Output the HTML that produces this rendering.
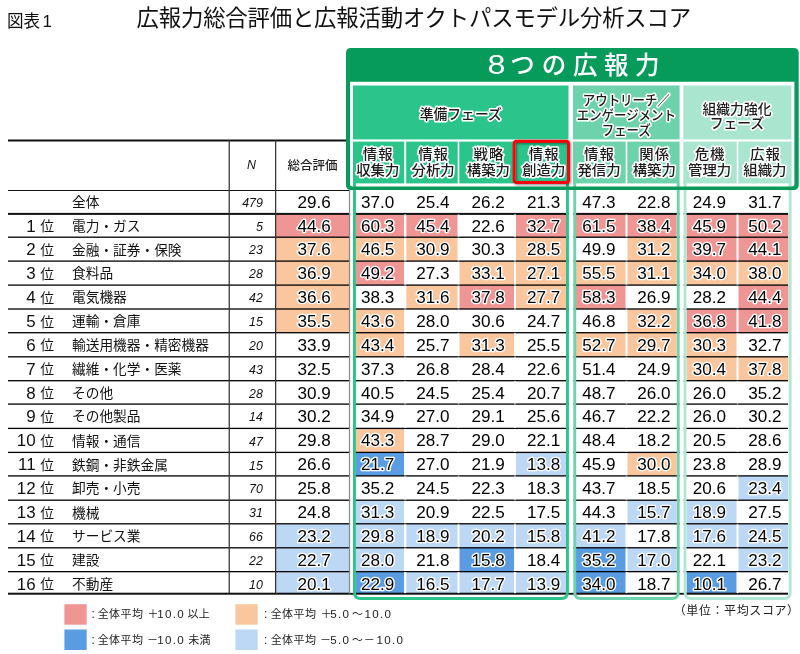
<!DOCTYPE html>
<html lang="ja"><head><meta charset="utf-8"><title>広報力総合評価と広報活動オクトパスモデル分析スコア</title>
<style>html,body{margin:0;padding:0;background:#fff}svg{display:block}</style></head>
<body>
<svg width="800" height="654" viewBox="0 0 800 654">
<rect width="800" height="654" fill="#fff"/>
<rect x="275.5" y="213.90" width="74.0" height="23.30" fill="#ef9695"/>
<rect x="356" y="213.90" width="48.20" height="23.30" fill="#ef9695"/>
<rect x="406.2" y="213.90" width="51.50" height="23.30" fill="#ef9695"/>
<rect x="516.0" y="213.90" width="50.00" height="23.30" fill="#ef9695"/>
<rect x="576" y="213.90" width="49.70" height="23.30" fill="#ef9695"/>
<rect x="627.3" y="213.90" width="49.30" height="23.30" fill="#ef9695"/>
<rect x="686.6" y="213.90" width="50.10" height="23.30" fill="#ef9695"/>
<rect x="738.3" y="213.90" width="50.20" height="23.30" fill="#ef9695"/>
<rect x="275.5" y="237.20" width="74.0" height="23.90" fill="#f9c69e"/>
<rect x="356" y="237.20" width="48.20" height="23.90" fill="#f9c69e"/>
<rect x="406.2" y="237.20" width="51.50" height="23.90" fill="#f9c69e"/>
<rect x="516.0" y="237.20" width="50.00" height="23.90" fill="#f9c69e"/>
<rect x="627.3" y="237.20" width="49.30" height="23.90" fill="#f9c69e"/>
<rect x="686.6" y="237.20" width="50.10" height="23.90" fill="#ef9695"/>
<rect x="738.3" y="237.20" width="50.20" height="23.90" fill="#ef9695"/>
<rect x="275.5" y="261.10" width="74.0" height="24.00" fill="#f9c69e"/>
<rect x="356" y="261.10" width="48.20" height="24.00" fill="#ef9695"/>
<rect x="459.3" y="261.10" width="54.70" height="24.00" fill="#f9c69e"/>
<rect x="516.0" y="261.10" width="50.00" height="24.00" fill="#f9c69e"/>
<rect x="576" y="261.10" width="49.70" height="24.00" fill="#f9c69e"/>
<rect x="627.3" y="261.10" width="49.30" height="24.00" fill="#f9c69e"/>
<rect x="686.6" y="261.10" width="50.10" height="24.00" fill="#f9c69e"/>
<rect x="738.3" y="261.10" width="50.20" height="24.00" fill="#f9c69e"/>
<rect x="275.5" y="285.10" width="74.0" height="23.90" fill="#f9c69e"/>
<rect x="406.2" y="285.10" width="51.50" height="23.90" fill="#f9c69e"/>
<rect x="459.3" y="285.10" width="54.70" height="23.90" fill="#ef9695"/>
<rect x="516.0" y="285.10" width="50.00" height="23.90" fill="#f9c69e"/>
<rect x="576" y="285.10" width="49.70" height="23.90" fill="#ef9695"/>
<rect x="738.3" y="285.10" width="50.20" height="23.90" fill="#ef9695"/>
<rect x="275.5" y="309.00" width="74.0" height="23.70" fill="#f9c69e"/>
<rect x="356" y="309.00" width="48.20" height="23.70" fill="#f9c69e"/>
<rect x="627.3" y="309.00" width="49.30" height="23.70" fill="#f9c69e"/>
<rect x="686.6" y="309.00" width="50.10" height="23.70" fill="#ef9695"/>
<rect x="738.3" y="309.00" width="50.20" height="23.70" fill="#ef9695"/>
<rect x="356" y="332.70" width="48.20" height="24.10" fill="#f9c69e"/>
<rect x="459.3" y="332.70" width="54.70" height="24.10" fill="#f9c69e"/>
<rect x="576" y="332.70" width="49.70" height="24.10" fill="#f9c69e"/>
<rect x="627.3" y="332.70" width="49.30" height="24.10" fill="#f9c69e"/>
<rect x="686.6" y="332.70" width="50.10" height="24.10" fill="#f9c69e"/>
<rect x="686.6" y="356.80" width="50.10" height="23.90" fill="#f9c69e"/>
<rect x="738.3" y="356.80" width="50.20" height="23.90" fill="#f9c69e"/>
<rect x="356" y="428.40" width="48.20" height="24.00" fill="#f9c69e"/>
<rect x="356" y="452.40" width="48.20" height="23.50" fill="#5a9ce1"/>
<rect x="516.0" y="452.40" width="50.00" height="23.50" fill="#bdd8f5"/>
<rect x="627.3" y="452.40" width="49.30" height="23.50" fill="#f9c69e"/>
<rect x="738.3" y="475.90" width="50.20" height="24.30" fill="#bdd8f5"/>
<rect x="356" y="500.20" width="48.20" height="23.60" fill="#bdd8f5"/>
<rect x="627.3" y="500.20" width="49.30" height="23.60" fill="#bdd8f5"/>
<rect x="686.6" y="500.20" width="50.10" height="23.60" fill="#bdd8f5"/>
<rect x="275.5" y="523.80" width="74.0" height="24.00" fill="#bdd8f5"/>
<rect x="356" y="523.80" width="48.20" height="24.00" fill="#bdd8f5"/>
<rect x="406.2" y="523.80" width="51.50" height="24.00" fill="#bdd8f5"/>
<rect x="459.3" y="523.80" width="54.70" height="24.00" fill="#bdd8f5"/>
<rect x="516.0" y="523.80" width="50.00" height="24.00" fill="#bdd8f5"/>
<rect x="576" y="523.80" width="49.70" height="24.00" fill="#bdd8f5"/>
<rect x="686.6" y="523.80" width="50.10" height="24.00" fill="#bdd8f5"/>
<rect x="738.3" y="523.80" width="50.20" height="24.00" fill="#bdd8f5"/>
<rect x="275.5" y="547.80" width="74.0" height="23.85" fill="#bdd8f5"/>
<rect x="356" y="547.80" width="48.20" height="23.85" fill="#bdd8f5"/>
<rect x="459.3" y="547.80" width="54.70" height="23.85" fill="#5a9ce1"/>
<rect x="576" y="547.80" width="49.70" height="23.85" fill="#5a9ce1"/>
<rect x="627.3" y="547.80" width="49.30" height="23.85" fill="#bdd8f5"/>
<rect x="738.3" y="547.80" width="50.20" height="23.85" fill="#bdd8f5"/>
<rect x="275.5" y="571.65" width="74.0" height="22.05" fill="#bdd8f5"/>
<rect x="356" y="571.65" width="48.20" height="22.05" fill="#5a9ce1"/>
<rect x="406.2" y="571.65" width="51.50" height="22.05" fill="#bdd8f5"/>
<rect x="459.3" y="571.65" width="54.70" height="22.05" fill="#bdd8f5"/>
<rect x="516.0" y="571.65" width="50.00" height="22.05" fill="#bdd8f5"/>
<rect x="576" y="571.65" width="49.70" height="22.05" fill="#5a9ce1"/>
<rect x="686.6" y="571.65" width="50.10" height="22.05" fill="#5a9ce1"/>
<rect x="8" y="139.50" width="341.5" height="2" fill="#111"/>
<rect x="8" y="190.00" width="341.5" height="1" fill="#111"/>
<rect x="8" y="212.90" width="780" height="2" fill="#111"/>
<rect x="8" y="236.55" width="780" height="1.3" fill="#000"/>
<rect x="8" y="260.45" width="780" height="1.3" fill="#000"/>
<rect x="8" y="284.45" width="780" height="1.3" fill="#000"/>
<rect x="8" y="308.35" width="780" height="1.3" fill="#000"/>
<rect x="8" y="332.05" width="780" height="1.3" fill="#000"/>
<rect x="8" y="356.15" width="780" height="1.3" fill="#000"/>
<rect x="8" y="380.05" width="780" height="1.3" fill="#000"/>
<rect x="8" y="403.45" width="780" height="1.3" fill="#000"/>
<rect x="8" y="427.75" width="780" height="1.3" fill="#000"/>
<rect x="8" y="451.75" width="780" height="1.3" fill="#000"/>
<rect x="8" y="475.25" width="780" height="1.3" fill="#000"/>
<rect x="8" y="499.55" width="780" height="1.3" fill="#000"/>
<rect x="8" y="523.15" width="780" height="1.3" fill="#000"/>
<rect x="8" y="547.15" width="780" height="1.3" fill="#000"/>
<rect x="8" y="571.00" width="780" height="1.3" fill="#000"/>
<rect x="8" y="592.70" width="780" height="2" fill="#111"/>
<rect x="350.1" y="191" width="2.90" height="401.5" fill="#fff"/>
<rect x="568.9" y="191" width="4.40" height="401.5" fill="#fff"/>
<rect x="679.65" y="191" width="3.95" height="401.5" fill="#fff"/>
<rect x="350" y="81.75" width="444.4" height="105" fill="#fff"/>
<rect x="228.6" y="140" width="1.25" height="453.70000000000005" fill="#3a3232"/>
<rect x="275.0" y="140" width="1.25" height="453.70000000000005" fill="#3a3232"/>
<rect x="348.9" y="190" width="1.2" height="403.70000000000005" fill="#888"/>
<rect x="404.2" y="214.50" width="2.00" height="22.10" fill="#fff"/>
<rect x="404.2" y="237.80" width="2.00" height="22.70" fill="#fff"/>
<rect x="404.2" y="261.70" width="2.00" height="22.80" fill="#fff"/>
<rect x="404.2" y="285.70" width="2.00" height="22.70" fill="#fff"/>
<rect x="404.2" y="309.60" width="2.00" height="22.50" fill="#fff"/>
<rect x="404.2" y="333.30" width="2.00" height="22.90" fill="#fff"/>
<rect x="404.2" y="357.40" width="2.00" height="22.70" fill="#fff"/>
<rect x="404.2" y="381.30" width="2.00" height="22.20" fill="#fff"/>
<rect x="404.2" y="404.70" width="2.00" height="23.10" fill="#fff"/>
<rect x="404.2" y="429.00" width="2.00" height="22.80" fill="#fff"/>
<rect x="404.2" y="453.00" width="2.00" height="22.30" fill="#fff"/>
<rect x="404.2" y="476.50" width="2.00" height="23.10" fill="#fff"/>
<rect x="404.2" y="500.80" width="2.00" height="22.40" fill="#fff"/>
<rect x="404.2" y="524.40" width="2.00" height="22.80" fill="#fff"/>
<rect x="404.2" y="548.40" width="2.00" height="22.65" fill="#fff"/>
<rect x="404.2" y="572.25" width="2.00" height="20.85" fill="#fff"/>
<rect x="457.7" y="214.50" width="1.60" height="22.10" fill="#fff"/>
<rect x="457.7" y="237.80" width="1.60" height="22.70" fill="#fff"/>
<rect x="457.7" y="261.70" width="1.60" height="22.80" fill="#fff"/>
<rect x="457.7" y="285.70" width="1.60" height="22.70" fill="#fff"/>
<rect x="457.7" y="309.60" width="1.60" height="22.50" fill="#fff"/>
<rect x="457.7" y="333.30" width="1.60" height="22.90" fill="#fff"/>
<rect x="457.7" y="357.40" width="1.60" height="22.70" fill="#fff"/>
<rect x="457.7" y="381.30" width="1.60" height="22.20" fill="#fff"/>
<rect x="457.7" y="404.70" width="1.60" height="23.10" fill="#fff"/>
<rect x="457.7" y="429.00" width="1.60" height="22.80" fill="#fff"/>
<rect x="457.7" y="453.00" width="1.60" height="22.30" fill="#fff"/>
<rect x="457.7" y="476.50" width="1.60" height="23.10" fill="#fff"/>
<rect x="457.7" y="500.80" width="1.60" height="22.40" fill="#fff"/>
<rect x="457.7" y="524.40" width="1.60" height="22.80" fill="#fff"/>
<rect x="457.7" y="548.40" width="1.60" height="22.65" fill="#fff"/>
<rect x="457.7" y="572.25" width="1.60" height="20.85" fill="#fff"/>
<rect x="514.0" y="214.50" width="2.00" height="22.10" fill="#fff"/>
<rect x="514.0" y="237.80" width="2.00" height="22.70" fill="#fff"/>
<rect x="514.0" y="261.70" width="2.00" height="22.80" fill="#fff"/>
<rect x="514.0" y="285.70" width="2.00" height="22.70" fill="#fff"/>
<rect x="514.0" y="309.60" width="2.00" height="22.50" fill="#fff"/>
<rect x="514.0" y="333.30" width="2.00" height="22.90" fill="#fff"/>
<rect x="514.0" y="357.40" width="2.00" height="22.70" fill="#fff"/>
<rect x="514.0" y="381.30" width="2.00" height="22.20" fill="#fff"/>
<rect x="514.0" y="404.70" width="2.00" height="23.10" fill="#fff"/>
<rect x="514.0" y="429.00" width="2.00" height="22.80" fill="#fff"/>
<rect x="514.0" y="453.00" width="2.00" height="22.30" fill="#fff"/>
<rect x="514.0" y="476.50" width="2.00" height="23.10" fill="#fff"/>
<rect x="514.0" y="500.80" width="2.00" height="22.40" fill="#fff"/>
<rect x="514.0" y="524.40" width="2.00" height="22.80" fill="#fff"/>
<rect x="514.0" y="548.40" width="2.00" height="22.65" fill="#fff"/>
<rect x="514.0" y="572.25" width="2.00" height="20.85" fill="#fff"/>
<rect x="625.7" y="214.50" width="1.60" height="22.10" fill="#fff"/>
<rect x="625.7" y="237.80" width="1.60" height="22.70" fill="#fff"/>
<rect x="625.7" y="261.70" width="1.60" height="22.80" fill="#fff"/>
<rect x="625.7" y="285.70" width="1.60" height="22.70" fill="#fff"/>
<rect x="625.7" y="309.60" width="1.60" height="22.50" fill="#fff"/>
<rect x="625.7" y="333.30" width="1.60" height="22.90" fill="#fff"/>
<rect x="625.7" y="357.40" width="1.60" height="22.70" fill="#fff"/>
<rect x="625.7" y="381.30" width="1.60" height="22.20" fill="#fff"/>
<rect x="625.7" y="404.70" width="1.60" height="23.10" fill="#fff"/>
<rect x="625.7" y="429.00" width="1.60" height="22.80" fill="#fff"/>
<rect x="625.7" y="453.00" width="1.60" height="22.30" fill="#fff"/>
<rect x="625.7" y="476.50" width="1.60" height="23.10" fill="#fff"/>
<rect x="625.7" y="500.80" width="1.60" height="22.40" fill="#fff"/>
<rect x="625.7" y="524.40" width="1.60" height="22.80" fill="#fff"/>
<rect x="625.7" y="548.40" width="1.60" height="22.65" fill="#fff"/>
<rect x="625.7" y="572.25" width="1.60" height="20.85" fill="#fff"/>
<rect x="736.7" y="214.50" width="1.60" height="22.10" fill="#fff"/>
<rect x="736.7" y="237.80" width="1.60" height="22.70" fill="#fff"/>
<rect x="736.7" y="261.70" width="1.60" height="22.80" fill="#fff"/>
<rect x="736.7" y="285.70" width="1.60" height="22.70" fill="#fff"/>
<rect x="736.7" y="309.60" width="1.60" height="22.50" fill="#fff"/>
<rect x="736.7" y="333.30" width="1.60" height="22.90" fill="#fff"/>
<rect x="736.7" y="357.40" width="1.60" height="22.70" fill="#fff"/>
<rect x="736.7" y="381.30" width="1.60" height="22.20" fill="#fff"/>
<rect x="736.7" y="404.70" width="1.60" height="23.10" fill="#fff"/>
<rect x="736.7" y="429.00" width="1.60" height="22.80" fill="#fff"/>
<rect x="736.7" y="453.00" width="1.60" height="22.30" fill="#fff"/>
<rect x="736.7" y="476.50" width="1.60" height="23.10" fill="#fff"/>
<rect x="736.7" y="500.80" width="1.60" height="22.40" fill="#fff"/>
<rect x="736.7" y="524.40" width="1.60" height="22.80" fill="#fff"/>
<rect x="736.7" y="548.40" width="1.60" height="22.65" fill="#fff"/>
<rect x="736.7" y="572.25" width="1.60" height="20.85" fill="#fff"/>
<path d="M354.45 183 V592.5 Q354.45 598.5 360.45 598.5 H561.45 Q567.45 598.5 567.45 592.5 V183" fill="none" stroke="#2bc48a" stroke-width="2.9"/>
<path d="M574.75 183 V592.5 Q574.75 598.5 580.75 598.5 H672.20 Q678.20 598.5 678.20 592.5 V183" fill="none" stroke="#6ed3ad" stroke-width="2.9"/>
<path d="M685.05 183 V592.5 Q685.05 598.5 691.05 598.5 H784.15 Q790.15 598.5 790.15 592.5 V183" fill="none" stroke="#b0e8d3" stroke-width="2.9"/>
<path fill-rule="evenodd" d="M351 48 H793.7 Q798.7 48 798.7 53 V185 Q798.7 190 793.7 190 H351 Q346 190 346 185 V53 Q346 48 351 48 Z M350 81.75 V184.1 Q350 186.6 352.5 186.6 H791.9 Q794.4 186.6 794.4 184.1 V81.75 Z" fill="#069a5b"/>
<rect x="353" y="85.5" width="215.5" height="53.900000000000006" fill="#2bc48a"/>
<rect x="573" y="85.5" width="106.60000000000002" height="53.900000000000006" fill="#6ed3ad"/>
<rect x="683.3" y="85.5" width="108.10" height="53.900000000000006" fill="#a9e5cf"/>
<rect x="353" y="141.6" width="51.20" height="41.80" fill="#2bc48a"/>
<rect x="406.2" y="141.6" width="51.50" height="41.80" fill="#2bc48a"/>
<rect x="459.3" y="141.6" width="54.70" height="41.80" fill="#2bc48a"/>
<rect x="516" y="141.6" width="52.50" height="41.80" fill="#2bc48a"/>
<rect x="573" y="141.6" width="52.70" height="41.80" fill="#6ed3ad"/>
<rect x="627.3" y="141.6" width="52.30" height="41.80" fill="#6ed3ad"/>
<rect x="683.3" y="141.6" width="53.40" height="41.80" fill="#a9e5cf"/>
<rect x="738.3" y="141.6" width="53.30" height="41.80" fill="#a9e5cf"/>
<defs><filter id="sh" x="-20%" y="-20%" width="150%" height="150%"><feDropShadow dx="1.2" dy="1.2" stdDeviation="1" flood-color="#000" flood-opacity="0.45"/></filter></defs>
<rect x="514.2" y="141.2" width="54.3" height="41.3" rx="2.5" ry="2.5" fill="none" stroke="#fb0007" stroke-width="3" filter="url(#sh)"/>
<text x="7" y="26.8" font-family="'Noto Sans CJK JP','Liberation Sans',sans-serif" font-size="16.6" fill="#111">図表<tspan dx="2.2" font-family="'Liberation Sans','Noto Sans CJK JP',sans-serif" font-size="17">1</tspan></text>
<text x="136.6" y="26.2" font-family="'Noto Sans CJK JP','Liberation Sans',sans-serif" font-size="22.4" fill="#111" letter-spacing="-0.2">広報力総合評価と広報活動オクトパスモデル分析スコア</text>
<text x="496.4" y="73.6" text-anchor="middle" font-family="'Liberation Sans','Noto Sans CJK JP',sans-serif" font-size="27.4" fill="#fff" transform="translate(496.4 0) scale(1.18 1) translate(-496.4 0)">8</text>
<text x="522.5 554 585.2 616.2 647.2" y="73.6" text-anchor="middle" font-family="'Noto Sans CJK JP','Liberation Sans',sans-serif" font-size="24.5" fill="#fff" font-weight="500">つの広報力</text>
<text x="460.75" y="118.50" text-anchor="middle" font-family="'Noto Sans CJK JP','Liberation Sans',sans-serif" font-size="13.8" font-weight="500" fill="#1c1c1c" letter-spacing="0" stroke="#fff" stroke-width="3.2" stroke-linejoin="round" paint-order="stroke" >準備フェーズ</text>
<text x="626.30" y="104.80" text-anchor="middle" font-family="'Noto Sans CJK JP','Liberation Sans',sans-serif" font-size="13.5" font-weight="500" fill="#1c1c1c" letter-spacing="0" stroke="#fff" stroke-width="3.2" stroke-linejoin="round" paint-order="stroke" transform="translate(626.30 0) scale(0.92 1) translate(-626.30 0)">アウトリーチ／</text>
<text x="626.30" y="119.70" text-anchor="middle" font-family="'Noto Sans CJK JP','Liberation Sans',sans-serif" font-size="13.5" font-weight="500" fill="#1c1c1c" letter-spacing="0" stroke="#fff" stroke-width="3.2" stroke-linejoin="round" paint-order="stroke" transform="translate(626.30 0) scale(0.92 1) translate(-626.30 0)">エンゲージメント</text>
<text x="626.30" y="134.60" text-anchor="middle" font-family="'Noto Sans CJK JP','Liberation Sans',sans-serif" font-size="13.5" font-weight="500" fill="#1c1c1c" letter-spacing="0" stroke="#fff" stroke-width="3.2" stroke-linejoin="round" paint-order="stroke" transform="translate(626.30 0) scale(0.92 1) translate(-626.30 0)">フェーズ</text>
<text x="737.00" y="113.70" text-anchor="middle" font-family="'Noto Sans CJK JP','Liberation Sans',sans-serif" font-size="13.8" font-weight="500" fill="#1c1c1c" letter-spacing="0" stroke="#fff" stroke-width="3.2" stroke-linejoin="round" paint-order="stroke" >組織力強化</text>
<text x="737.00" y="127.90" text-anchor="middle" font-family="'Noto Sans CJK JP','Liberation Sans',sans-serif" font-size="13.8" font-weight="500" fill="#1c1c1c" letter-spacing="0" stroke="#fff" stroke-width="3.2" stroke-linejoin="round" paint-order="stroke" >フェーズ</text>
<text x="378.30" y="158.70" text-anchor="middle" font-family="'Noto Sans CJK JP','Liberation Sans',sans-serif" font-size="13.6" font-weight="500" fill="#1c1c1c" letter-spacing="1" stroke="#fff" stroke-width="3.2" stroke-linejoin="round" paint-order="stroke" transform="translate(378.30 0) scale(1.06 1) translate(-378.30 0)">情報</text>
<text x="377.80" y="175.30" text-anchor="middle" font-family="'Noto Sans CJK JP','Liberation Sans',sans-serif" font-size="13.6" font-weight="500" fill="#1c1c1c" letter-spacing="0" stroke="#fff" stroke-width="3.2" stroke-linejoin="round" paint-order="stroke" transform="translate(377.80 0) scale(1.06 1) translate(-377.80 0)">収集力</text>
<text x="433.60" y="158.70" text-anchor="middle" font-family="'Noto Sans CJK JP','Liberation Sans',sans-serif" font-size="13.6" font-weight="500" fill="#1c1c1c" letter-spacing="1" stroke="#fff" stroke-width="3.2" stroke-linejoin="round" paint-order="stroke" transform="translate(433.60 0) scale(1.06 1) translate(-433.60 0)">情報</text>
<text x="433.10" y="175.30" text-anchor="middle" font-family="'Noto Sans CJK JP','Liberation Sans',sans-serif" font-size="13.6" font-weight="500" fill="#1c1c1c" letter-spacing="0" stroke="#fff" stroke-width="3.2" stroke-linejoin="round" paint-order="stroke" transform="translate(433.10 0) scale(1.06 1) translate(-433.10 0)">分析力</text>
<text x="488.90" y="158.70" text-anchor="middle" font-family="'Noto Sans CJK JP','Liberation Sans',sans-serif" font-size="13.6" font-weight="500" fill="#1c1c1c" letter-spacing="1" stroke="#fff" stroke-width="3.2" stroke-linejoin="round" paint-order="stroke" transform="translate(488.90 0) scale(1.06 1) translate(-488.90 0)">戦略</text>
<text x="488.40" y="175.30" text-anchor="middle" font-family="'Noto Sans CJK JP','Liberation Sans',sans-serif" font-size="13.6" font-weight="500" fill="#1c1c1c" letter-spacing="0" stroke="#fff" stroke-width="3.2" stroke-linejoin="round" paint-order="stroke" transform="translate(488.40 0) scale(1.06 1) translate(-488.40 0)">構築力</text>
<text x="544.20" y="158.70" text-anchor="middle" font-family="'Noto Sans CJK JP','Liberation Sans',sans-serif" font-size="13.6" font-weight="500" fill="#1c1c1c" letter-spacing="1" stroke="#fff" stroke-width="3.2" stroke-linejoin="round" paint-order="stroke" transform="translate(544.20 0) scale(1.06 1) translate(-544.20 0)">情報</text>
<text x="543.70" y="175.30" text-anchor="middle" font-family="'Noto Sans CJK JP','Liberation Sans',sans-serif" font-size="13.6" font-weight="500" fill="#1c1c1c" letter-spacing="0" stroke="#fff" stroke-width="3.2" stroke-linejoin="round" paint-order="stroke" transform="translate(543.70 0) scale(1.06 1) translate(-543.70 0)">創造力</text>
<text x="599.50" y="158.70" text-anchor="middle" font-family="'Noto Sans CJK JP','Liberation Sans',sans-serif" font-size="13.6" font-weight="500" fill="#1c1c1c" letter-spacing="1" stroke="#fff" stroke-width="3.2" stroke-linejoin="round" paint-order="stroke" transform="translate(599.50 0) scale(1.06 1) translate(-599.50 0)">情報</text>
<text x="599.00" y="175.30" text-anchor="middle" font-family="'Noto Sans CJK JP','Liberation Sans',sans-serif" font-size="13.6" font-weight="500" fill="#1c1c1c" letter-spacing="0" stroke="#fff" stroke-width="3.2" stroke-linejoin="round" paint-order="stroke" transform="translate(599.00 0) scale(1.06 1) translate(-599.00 0)">発信力</text>
<text x="654.80" y="158.70" text-anchor="middle" font-family="'Noto Sans CJK JP','Liberation Sans',sans-serif" font-size="13.6" font-weight="500" fill="#1c1c1c" letter-spacing="1" stroke="#fff" stroke-width="3.2" stroke-linejoin="round" paint-order="stroke" transform="translate(654.80 0) scale(1.06 1) translate(-654.80 0)">関係</text>
<text x="654.30" y="175.30" text-anchor="middle" font-family="'Noto Sans CJK JP','Liberation Sans',sans-serif" font-size="13.6" font-weight="500" fill="#1c1c1c" letter-spacing="0" stroke="#fff" stroke-width="3.2" stroke-linejoin="round" paint-order="stroke" transform="translate(654.30 0) scale(1.06 1) translate(-654.30 0)">構築力</text>
<text x="710.10" y="158.70" text-anchor="middle" font-family="'Noto Sans CJK JP','Liberation Sans',sans-serif" font-size="13.6" font-weight="500" fill="#1c1c1c" letter-spacing="1" stroke="#fff" stroke-width="3.2" stroke-linejoin="round" paint-order="stroke" transform="translate(710.10 0) scale(1.06 1) translate(-710.10 0)">危機</text>
<text x="709.60" y="175.30" text-anchor="middle" font-family="'Noto Sans CJK JP','Liberation Sans',sans-serif" font-size="13.6" font-weight="500" fill="#1c1c1c" letter-spacing="0" stroke="#fff" stroke-width="3.2" stroke-linejoin="round" paint-order="stroke" transform="translate(709.60 0) scale(1.06 1) translate(-709.60 0)">管理力</text>
<text x="765.40" y="158.70" text-anchor="middle" font-family="'Noto Sans CJK JP','Liberation Sans',sans-serif" font-size="13.6" font-weight="500" fill="#1c1c1c" letter-spacing="1" stroke="#fff" stroke-width="3.2" stroke-linejoin="round" paint-order="stroke" transform="translate(765.40 0) scale(1.06 1) translate(-765.40 0)">広報</text>
<text x="764.90" y="175.30" text-anchor="middle" font-family="'Noto Sans CJK JP','Liberation Sans',sans-serif" font-size="13.6" font-weight="500" fill="#1c1c1c" letter-spacing="0" stroke="#fff" stroke-width="3.2" stroke-linejoin="round" paint-order="stroke" transform="translate(764.90 0) scale(1.06 1) translate(-764.90 0)">組織力</text>
<text x="251.5" y="169.2" text-anchor="middle" font-family="'Liberation Sans','Noto Sans CJK JP',sans-serif" font-size="12.4" font-style="italic" fill="#111">N</text>
<text x="312.5" y="169.8" text-anchor="middle" font-family="'Noto Sans CJK JP','Liberation Sans',sans-serif" font-size="12.5" font-weight="500" fill="#222">総合評価</text>
<text x="72" y="207.30" font-family="'Noto Sans CJK JP','Liberation Sans',sans-serif" font-size="13.7" fill="#111">全体</text>
<text x="262.9" y="207.20" text-anchor="end" font-family="'Liberation Sans','Noto Sans CJK JP',sans-serif" font-size="12.4" font-style="italic" fill="#111">479</text>
<text x="314.1" y="208.10" text-anchor="middle" font-family="'Liberation Sans','Noto Sans CJK JP',sans-serif" font-size="16" fill="#000" stroke="#fff" stroke-width="2.7" stroke-linejoin="round" paint-order="stroke" transform="translate(314.1 0) scale(1.07 1) translate(-314.1 0)">29.6</text>
<text x="377.60" y="208.10" text-anchor="middle" font-family="'Liberation Sans','Noto Sans CJK JP',sans-serif" font-size="16" fill="#000" stroke="#fff" stroke-width="2.7" stroke-linejoin="round" paint-order="stroke" transform="translate(377.60 0) scale(1.07 1) translate(-377.60 0)">37.0</text>
<text x="433.00" y="208.10" text-anchor="middle" font-family="'Liberation Sans','Noto Sans CJK JP',sans-serif" font-size="16" fill="#000" stroke="#fff" stroke-width="2.7" stroke-linejoin="round" paint-order="stroke" transform="translate(433.00 0) scale(1.07 1) translate(-433.00 0)">25.4</text>
<text x="488.20" y="208.10" text-anchor="middle" font-family="'Liberation Sans','Noto Sans CJK JP',sans-serif" font-size="16" fill="#000" stroke="#fff" stroke-width="2.7" stroke-linejoin="round" paint-order="stroke" transform="translate(488.20 0) scale(1.07 1) translate(-488.20 0)">26.2</text>
<text x="543.60" y="208.10" text-anchor="middle" font-family="'Liberation Sans','Noto Sans CJK JP',sans-serif" font-size="16" fill="#000" stroke="#fff" stroke-width="2.7" stroke-linejoin="round" paint-order="stroke" transform="translate(543.60 0) scale(1.07 1) translate(-543.60 0)">21.3</text>
<text x="598.90" y="208.10" text-anchor="middle" font-family="'Liberation Sans','Noto Sans CJK JP',sans-serif" font-size="16" fill="#000" stroke="#fff" stroke-width="2.7" stroke-linejoin="round" paint-order="stroke" transform="translate(598.90 0) scale(1.07 1) translate(-598.90 0)">47.3</text>
<text x="654.00" y="208.10" text-anchor="middle" font-family="'Liberation Sans','Noto Sans CJK JP',sans-serif" font-size="16" fill="#000" stroke="#fff" stroke-width="2.7" stroke-linejoin="round" paint-order="stroke" transform="translate(654.00 0) scale(1.07 1) translate(-654.00 0)">22.8</text>
<text x="709.50" y="208.10" text-anchor="middle" font-family="'Liberation Sans','Noto Sans CJK JP',sans-serif" font-size="16" fill="#000" stroke="#fff" stroke-width="2.7" stroke-linejoin="round" paint-order="stroke" transform="translate(709.50 0) scale(1.07 1) translate(-709.50 0)">24.9</text>
<text x="764.90" y="208.10" text-anchor="middle" font-family="'Liberation Sans','Noto Sans CJK JP',sans-serif" font-size="16" fill="#000" stroke="#fff" stroke-width="2.7" stroke-linejoin="round" paint-order="stroke" transform="translate(764.90 0) scale(1.07 1) translate(-764.90 0)">31.7</text>
<text x="35.6" y="232.00" text-anchor="end" font-family="'Liberation Sans','Noto Sans CJK JP',sans-serif" font-size="16" fill="#111" transform="translate(35.6 0) scale(1.06 1) translate(-35.6 0)">1</text>
<text x="40.3" y="231.40" font-family="'Noto Sans CJK JP','Liberation Sans',sans-serif" font-size="13.8" fill="#111">位</text>
<text x="72" y="231.20" font-family="'Noto Sans CJK JP','Liberation Sans',sans-serif" font-size="13.7" fill="#111">電力・ガス</text>
<text x="262.9" y="231.10" text-anchor="end" font-family="'Liberation Sans','Noto Sans CJK JP',sans-serif" font-size="12.4" font-style="italic" fill="#111">5</text>
<text x="314.1" y="232.00" text-anchor="middle" font-family="'Liberation Sans','Noto Sans CJK JP',sans-serif" font-size="16" fill="#000" stroke="#fff" stroke-width="2.7" stroke-linejoin="round" paint-order="stroke" transform="translate(314.1 0) scale(1.07 1) translate(-314.1 0)">44.6</text>
<text x="377.60" y="232.00" text-anchor="middle" font-family="'Liberation Sans','Noto Sans CJK JP',sans-serif" font-size="16" fill="#000" stroke="#fff" stroke-width="2.7" stroke-linejoin="round" paint-order="stroke" transform="translate(377.60 0) scale(1.07 1) translate(-377.60 0)">60.3</text>
<text x="433.00" y="232.00" text-anchor="middle" font-family="'Liberation Sans','Noto Sans CJK JP',sans-serif" font-size="16" fill="#000" stroke="#fff" stroke-width="2.7" stroke-linejoin="round" paint-order="stroke" transform="translate(433.00 0) scale(1.07 1) translate(-433.00 0)">45.4</text>
<text x="488.20" y="232.00" text-anchor="middle" font-family="'Liberation Sans','Noto Sans CJK JP',sans-serif" font-size="16" fill="#000" stroke="#fff" stroke-width="2.7" stroke-linejoin="round" paint-order="stroke" transform="translate(488.20 0) scale(1.07 1) translate(-488.20 0)">22.6</text>
<text x="543.60" y="232.00" text-anchor="middle" font-family="'Liberation Sans','Noto Sans CJK JP',sans-serif" font-size="16" fill="#000" stroke="#fff" stroke-width="2.7" stroke-linejoin="round" paint-order="stroke" transform="translate(543.60 0) scale(1.07 1) translate(-543.60 0)">32.7</text>
<text x="598.90" y="232.00" text-anchor="middle" font-family="'Liberation Sans','Noto Sans CJK JP',sans-serif" font-size="16" fill="#000" stroke="#fff" stroke-width="2.7" stroke-linejoin="round" paint-order="stroke" transform="translate(598.90 0) scale(1.07 1) translate(-598.90 0)">61.5</text>
<text x="654.00" y="232.00" text-anchor="middle" font-family="'Liberation Sans','Noto Sans CJK JP',sans-serif" font-size="16" fill="#000" stroke="#fff" stroke-width="2.7" stroke-linejoin="round" paint-order="stroke" transform="translate(654.00 0) scale(1.07 1) translate(-654.00 0)">38.4</text>
<text x="709.50" y="232.00" text-anchor="middle" font-family="'Liberation Sans','Noto Sans CJK JP',sans-serif" font-size="16" fill="#000" stroke="#fff" stroke-width="2.7" stroke-linejoin="round" paint-order="stroke" transform="translate(709.50 0) scale(1.07 1) translate(-709.50 0)">45.9</text>
<text x="764.90" y="232.00" text-anchor="middle" font-family="'Liberation Sans','Noto Sans CJK JP',sans-serif" font-size="16" fill="#000" stroke="#fff" stroke-width="2.7" stroke-linejoin="round" paint-order="stroke" transform="translate(764.90 0) scale(1.07 1) translate(-764.90 0)">50.2</text>
<text x="35.6" y="255.30" text-anchor="end" font-family="'Liberation Sans','Noto Sans CJK JP',sans-serif" font-size="16" fill="#111" transform="translate(35.6 0) scale(1.06 1) translate(-35.6 0)">2</text>
<text x="40.3" y="254.70" font-family="'Noto Sans CJK JP','Liberation Sans',sans-serif" font-size="13.8" fill="#111">位</text>
<text x="72" y="254.50" font-family="'Noto Sans CJK JP','Liberation Sans',sans-serif" font-size="13.7" fill="#111">金融・証券・保険</text>
<text x="262.9" y="254.40" text-anchor="end" font-family="'Liberation Sans','Noto Sans CJK JP',sans-serif" font-size="12.4" font-style="italic" fill="#111">23</text>
<text x="314.1" y="255.30" text-anchor="middle" font-family="'Liberation Sans','Noto Sans CJK JP',sans-serif" font-size="16" fill="#000" stroke="#fff" stroke-width="2.7" stroke-linejoin="round" paint-order="stroke" transform="translate(314.1 0) scale(1.07 1) translate(-314.1 0)">37.6</text>
<text x="377.60" y="255.30" text-anchor="middle" font-family="'Liberation Sans','Noto Sans CJK JP',sans-serif" font-size="16" fill="#000" stroke="#fff" stroke-width="2.7" stroke-linejoin="round" paint-order="stroke" transform="translate(377.60 0) scale(1.07 1) translate(-377.60 0)">46.5</text>
<text x="433.00" y="255.30" text-anchor="middle" font-family="'Liberation Sans','Noto Sans CJK JP',sans-serif" font-size="16" fill="#000" stroke="#fff" stroke-width="2.7" stroke-linejoin="round" paint-order="stroke" transform="translate(433.00 0) scale(1.07 1) translate(-433.00 0)">30.9</text>
<text x="488.20" y="255.30" text-anchor="middle" font-family="'Liberation Sans','Noto Sans CJK JP',sans-serif" font-size="16" fill="#000" stroke="#fff" stroke-width="2.7" stroke-linejoin="round" paint-order="stroke" transform="translate(488.20 0) scale(1.07 1) translate(-488.20 0)">30.3</text>
<text x="543.60" y="255.30" text-anchor="middle" font-family="'Liberation Sans','Noto Sans CJK JP',sans-serif" font-size="16" fill="#000" stroke="#fff" stroke-width="2.7" stroke-linejoin="round" paint-order="stroke" transform="translate(543.60 0) scale(1.07 1) translate(-543.60 0)">28.5</text>
<text x="598.90" y="255.30" text-anchor="middle" font-family="'Liberation Sans','Noto Sans CJK JP',sans-serif" font-size="16" fill="#000" stroke="#fff" stroke-width="2.7" stroke-linejoin="round" paint-order="stroke" transform="translate(598.90 0) scale(1.07 1) translate(-598.90 0)">49.9</text>
<text x="654.00" y="255.30" text-anchor="middle" font-family="'Liberation Sans','Noto Sans CJK JP',sans-serif" font-size="16" fill="#000" stroke="#fff" stroke-width="2.7" stroke-linejoin="round" paint-order="stroke" transform="translate(654.00 0) scale(1.07 1) translate(-654.00 0)">31.2</text>
<text x="709.50" y="255.30" text-anchor="middle" font-family="'Liberation Sans','Noto Sans CJK JP',sans-serif" font-size="16" fill="#000" stroke="#fff" stroke-width="2.7" stroke-linejoin="round" paint-order="stroke" transform="translate(709.50 0) scale(1.07 1) translate(-709.50 0)">39.7</text>
<text x="764.90" y="255.30" text-anchor="middle" font-family="'Liberation Sans','Noto Sans CJK JP',sans-serif" font-size="16" fill="#000" stroke="#fff" stroke-width="2.7" stroke-linejoin="round" paint-order="stroke" transform="translate(764.90 0) scale(1.07 1) translate(-764.90 0)">44.1</text>
<text x="35.6" y="279.20" text-anchor="end" font-family="'Liberation Sans','Noto Sans CJK JP',sans-serif" font-size="16" fill="#111" transform="translate(35.6 0) scale(1.06 1) translate(-35.6 0)">3</text>
<text x="40.3" y="278.60" font-family="'Noto Sans CJK JP','Liberation Sans',sans-serif" font-size="13.8" fill="#111">位</text>
<text x="72" y="278.40" font-family="'Noto Sans CJK JP','Liberation Sans',sans-serif" font-size="13.7" fill="#111">食料品</text>
<text x="262.9" y="278.30" text-anchor="end" font-family="'Liberation Sans','Noto Sans CJK JP',sans-serif" font-size="12.4" font-style="italic" fill="#111">28</text>
<text x="314.1" y="279.20" text-anchor="middle" font-family="'Liberation Sans','Noto Sans CJK JP',sans-serif" font-size="16" fill="#000" stroke="#fff" stroke-width="2.7" stroke-linejoin="round" paint-order="stroke" transform="translate(314.1 0) scale(1.07 1) translate(-314.1 0)">36.9</text>
<text x="377.60" y="279.20" text-anchor="middle" font-family="'Liberation Sans','Noto Sans CJK JP',sans-serif" font-size="16" fill="#000" stroke="#fff" stroke-width="2.7" stroke-linejoin="round" paint-order="stroke" transform="translate(377.60 0) scale(1.07 1) translate(-377.60 0)">49.2</text>
<text x="433.00" y="279.20" text-anchor="middle" font-family="'Liberation Sans','Noto Sans CJK JP',sans-serif" font-size="16" fill="#000" stroke="#fff" stroke-width="2.7" stroke-linejoin="round" paint-order="stroke" transform="translate(433.00 0) scale(1.07 1) translate(-433.00 0)">27.3</text>
<text x="488.20" y="279.20" text-anchor="middle" font-family="'Liberation Sans','Noto Sans CJK JP',sans-serif" font-size="16" fill="#000" stroke="#fff" stroke-width="2.7" stroke-linejoin="round" paint-order="stroke" transform="translate(488.20 0) scale(1.07 1) translate(-488.20 0)">33.1</text>
<text x="543.60" y="279.20" text-anchor="middle" font-family="'Liberation Sans','Noto Sans CJK JP',sans-serif" font-size="16" fill="#000" stroke="#fff" stroke-width="2.7" stroke-linejoin="round" paint-order="stroke" transform="translate(543.60 0) scale(1.07 1) translate(-543.60 0)">27.1</text>
<text x="598.90" y="279.20" text-anchor="middle" font-family="'Liberation Sans','Noto Sans CJK JP',sans-serif" font-size="16" fill="#000" stroke="#fff" stroke-width="2.7" stroke-linejoin="round" paint-order="stroke" transform="translate(598.90 0) scale(1.07 1) translate(-598.90 0)">55.5</text>
<text x="654.00" y="279.20" text-anchor="middle" font-family="'Liberation Sans','Noto Sans CJK JP',sans-serif" font-size="16" fill="#000" stroke="#fff" stroke-width="2.7" stroke-linejoin="round" paint-order="stroke" transform="translate(654.00 0) scale(1.07 1) translate(-654.00 0)">31.1</text>
<text x="709.50" y="279.20" text-anchor="middle" font-family="'Liberation Sans','Noto Sans CJK JP',sans-serif" font-size="16" fill="#000" stroke="#fff" stroke-width="2.7" stroke-linejoin="round" paint-order="stroke" transform="translate(709.50 0) scale(1.07 1) translate(-709.50 0)">34.0</text>
<text x="764.90" y="279.20" text-anchor="middle" font-family="'Liberation Sans','Noto Sans CJK JP',sans-serif" font-size="16" fill="#000" stroke="#fff" stroke-width="2.7" stroke-linejoin="round" paint-order="stroke" transform="translate(764.90 0) scale(1.07 1) translate(-764.90 0)">38.0</text>
<text x="35.6" y="303.20" text-anchor="end" font-family="'Liberation Sans','Noto Sans CJK JP',sans-serif" font-size="16" fill="#111" transform="translate(35.6 0) scale(1.06 1) translate(-35.6 0)">4</text>
<text x="40.3" y="302.60" font-family="'Noto Sans CJK JP','Liberation Sans',sans-serif" font-size="13.8" fill="#111">位</text>
<text x="72" y="302.40" font-family="'Noto Sans CJK JP','Liberation Sans',sans-serif" font-size="13.7" fill="#111">電気機器</text>
<text x="262.9" y="302.30" text-anchor="end" font-family="'Liberation Sans','Noto Sans CJK JP',sans-serif" font-size="12.4" font-style="italic" fill="#111">42</text>
<text x="314.1" y="303.20" text-anchor="middle" font-family="'Liberation Sans','Noto Sans CJK JP',sans-serif" font-size="16" fill="#000" stroke="#fff" stroke-width="2.7" stroke-linejoin="round" paint-order="stroke" transform="translate(314.1 0) scale(1.07 1) translate(-314.1 0)">36.6</text>
<text x="377.60" y="303.20" text-anchor="middle" font-family="'Liberation Sans','Noto Sans CJK JP',sans-serif" font-size="16" fill="#000" stroke="#fff" stroke-width="2.7" stroke-linejoin="round" paint-order="stroke" transform="translate(377.60 0) scale(1.07 1) translate(-377.60 0)">38.3</text>
<text x="433.00" y="303.20" text-anchor="middle" font-family="'Liberation Sans','Noto Sans CJK JP',sans-serif" font-size="16" fill="#000" stroke="#fff" stroke-width="2.7" stroke-linejoin="round" paint-order="stroke" transform="translate(433.00 0) scale(1.07 1) translate(-433.00 0)">31.6</text>
<text x="488.20" y="303.20" text-anchor="middle" font-family="'Liberation Sans','Noto Sans CJK JP',sans-serif" font-size="16" fill="#000" stroke="#fff" stroke-width="2.7" stroke-linejoin="round" paint-order="stroke" transform="translate(488.20 0) scale(1.07 1) translate(-488.20 0)">37.8</text>
<text x="543.60" y="303.20" text-anchor="middle" font-family="'Liberation Sans','Noto Sans CJK JP',sans-serif" font-size="16" fill="#000" stroke="#fff" stroke-width="2.7" stroke-linejoin="round" paint-order="stroke" transform="translate(543.60 0) scale(1.07 1) translate(-543.60 0)">27.7</text>
<text x="598.90" y="303.20" text-anchor="middle" font-family="'Liberation Sans','Noto Sans CJK JP',sans-serif" font-size="16" fill="#000" stroke="#fff" stroke-width="2.7" stroke-linejoin="round" paint-order="stroke" transform="translate(598.90 0) scale(1.07 1) translate(-598.90 0)">58.3</text>
<text x="654.00" y="303.20" text-anchor="middle" font-family="'Liberation Sans','Noto Sans CJK JP',sans-serif" font-size="16" fill="#000" stroke="#fff" stroke-width="2.7" stroke-linejoin="round" paint-order="stroke" transform="translate(654.00 0) scale(1.07 1) translate(-654.00 0)">26.9</text>
<text x="709.50" y="303.20" text-anchor="middle" font-family="'Liberation Sans','Noto Sans CJK JP',sans-serif" font-size="16" fill="#000" stroke="#fff" stroke-width="2.7" stroke-linejoin="round" paint-order="stroke" transform="translate(709.50 0) scale(1.07 1) translate(-709.50 0)">28.2</text>
<text x="764.90" y="303.20" text-anchor="middle" font-family="'Liberation Sans','Noto Sans CJK JP',sans-serif" font-size="16" fill="#000" stroke="#fff" stroke-width="2.7" stroke-linejoin="round" paint-order="stroke" transform="translate(764.90 0) scale(1.07 1) translate(-764.90 0)">44.4</text>
<text x="35.6" y="327.10" text-anchor="end" font-family="'Liberation Sans','Noto Sans CJK JP',sans-serif" font-size="16" fill="#111" transform="translate(35.6 0) scale(1.06 1) translate(-35.6 0)">5</text>
<text x="40.3" y="326.50" font-family="'Noto Sans CJK JP','Liberation Sans',sans-serif" font-size="13.8" fill="#111">位</text>
<text x="72" y="326.30" font-family="'Noto Sans CJK JP','Liberation Sans',sans-serif" font-size="13.7" fill="#111">運輸・倉庫</text>
<text x="262.9" y="326.20" text-anchor="end" font-family="'Liberation Sans','Noto Sans CJK JP',sans-serif" font-size="12.4" font-style="italic" fill="#111">15</text>
<text x="314.1" y="327.10" text-anchor="middle" font-family="'Liberation Sans','Noto Sans CJK JP',sans-serif" font-size="16" fill="#000" stroke="#fff" stroke-width="2.7" stroke-linejoin="round" paint-order="stroke" transform="translate(314.1 0) scale(1.07 1) translate(-314.1 0)">35.5</text>
<text x="377.60" y="327.10" text-anchor="middle" font-family="'Liberation Sans','Noto Sans CJK JP',sans-serif" font-size="16" fill="#000" stroke="#fff" stroke-width="2.7" stroke-linejoin="round" paint-order="stroke" transform="translate(377.60 0) scale(1.07 1) translate(-377.60 0)">43.6</text>
<text x="433.00" y="327.10" text-anchor="middle" font-family="'Liberation Sans','Noto Sans CJK JP',sans-serif" font-size="16" fill="#000" stroke="#fff" stroke-width="2.7" stroke-linejoin="round" paint-order="stroke" transform="translate(433.00 0) scale(1.07 1) translate(-433.00 0)">28.0</text>
<text x="488.20" y="327.10" text-anchor="middle" font-family="'Liberation Sans','Noto Sans CJK JP',sans-serif" font-size="16" fill="#000" stroke="#fff" stroke-width="2.7" stroke-linejoin="round" paint-order="stroke" transform="translate(488.20 0) scale(1.07 1) translate(-488.20 0)">30.6</text>
<text x="543.60" y="327.10" text-anchor="middle" font-family="'Liberation Sans','Noto Sans CJK JP',sans-serif" font-size="16" fill="#000" stroke="#fff" stroke-width="2.7" stroke-linejoin="round" paint-order="stroke" transform="translate(543.60 0) scale(1.07 1) translate(-543.60 0)">24.7</text>
<text x="598.90" y="327.10" text-anchor="middle" font-family="'Liberation Sans','Noto Sans CJK JP',sans-serif" font-size="16" fill="#000" stroke="#fff" stroke-width="2.7" stroke-linejoin="round" paint-order="stroke" transform="translate(598.90 0) scale(1.07 1) translate(-598.90 0)">46.8</text>
<text x="654.00" y="327.10" text-anchor="middle" font-family="'Liberation Sans','Noto Sans CJK JP',sans-serif" font-size="16" fill="#000" stroke="#fff" stroke-width="2.7" stroke-linejoin="round" paint-order="stroke" transform="translate(654.00 0) scale(1.07 1) translate(-654.00 0)">32.2</text>
<text x="709.50" y="327.10" text-anchor="middle" font-family="'Liberation Sans','Noto Sans CJK JP',sans-serif" font-size="16" fill="#000" stroke="#fff" stroke-width="2.7" stroke-linejoin="round" paint-order="stroke" transform="translate(709.50 0) scale(1.07 1) translate(-709.50 0)">36.8</text>
<text x="764.90" y="327.10" text-anchor="middle" font-family="'Liberation Sans','Noto Sans CJK JP',sans-serif" font-size="16" fill="#000" stroke="#fff" stroke-width="2.7" stroke-linejoin="round" paint-order="stroke" transform="translate(764.90 0) scale(1.07 1) translate(-764.90 0)">41.8</text>
<text x="35.6" y="350.80" text-anchor="end" font-family="'Liberation Sans','Noto Sans CJK JP',sans-serif" font-size="16" fill="#111" transform="translate(35.6 0) scale(1.06 1) translate(-35.6 0)">6</text>
<text x="40.3" y="350.20" font-family="'Noto Sans CJK JP','Liberation Sans',sans-serif" font-size="13.8" fill="#111">位</text>
<text x="72" y="350.00" font-family="'Noto Sans CJK JP','Liberation Sans',sans-serif" font-size="13.7" fill="#111">輸送用機器・精密機器</text>
<text x="262.9" y="349.90" text-anchor="end" font-family="'Liberation Sans','Noto Sans CJK JP',sans-serif" font-size="12.4" font-style="italic" fill="#111">20</text>
<text x="314.1" y="350.80" text-anchor="middle" font-family="'Liberation Sans','Noto Sans CJK JP',sans-serif" font-size="16" fill="#000" stroke="#fff" stroke-width="2.7" stroke-linejoin="round" paint-order="stroke" transform="translate(314.1 0) scale(1.07 1) translate(-314.1 0)">33.9</text>
<text x="377.60" y="350.80" text-anchor="middle" font-family="'Liberation Sans','Noto Sans CJK JP',sans-serif" font-size="16" fill="#000" stroke="#fff" stroke-width="2.7" stroke-linejoin="round" paint-order="stroke" transform="translate(377.60 0) scale(1.07 1) translate(-377.60 0)">43.4</text>
<text x="433.00" y="350.80" text-anchor="middle" font-family="'Liberation Sans','Noto Sans CJK JP',sans-serif" font-size="16" fill="#000" stroke="#fff" stroke-width="2.7" stroke-linejoin="round" paint-order="stroke" transform="translate(433.00 0) scale(1.07 1) translate(-433.00 0)">25.7</text>
<text x="488.20" y="350.80" text-anchor="middle" font-family="'Liberation Sans','Noto Sans CJK JP',sans-serif" font-size="16" fill="#000" stroke="#fff" stroke-width="2.7" stroke-linejoin="round" paint-order="stroke" transform="translate(488.20 0) scale(1.07 1) translate(-488.20 0)">31.3</text>
<text x="543.60" y="350.80" text-anchor="middle" font-family="'Liberation Sans','Noto Sans CJK JP',sans-serif" font-size="16" fill="#000" stroke="#fff" stroke-width="2.7" stroke-linejoin="round" paint-order="stroke" transform="translate(543.60 0) scale(1.07 1) translate(-543.60 0)">25.5</text>
<text x="598.90" y="350.80" text-anchor="middle" font-family="'Liberation Sans','Noto Sans CJK JP',sans-serif" font-size="16" fill="#000" stroke="#fff" stroke-width="2.7" stroke-linejoin="round" paint-order="stroke" transform="translate(598.90 0) scale(1.07 1) translate(-598.90 0)">52.7</text>
<text x="654.00" y="350.80" text-anchor="middle" font-family="'Liberation Sans','Noto Sans CJK JP',sans-serif" font-size="16" fill="#000" stroke="#fff" stroke-width="2.7" stroke-linejoin="round" paint-order="stroke" transform="translate(654.00 0) scale(1.07 1) translate(-654.00 0)">29.7</text>
<text x="709.50" y="350.80" text-anchor="middle" font-family="'Liberation Sans','Noto Sans CJK JP',sans-serif" font-size="16" fill="#000" stroke="#fff" stroke-width="2.7" stroke-linejoin="round" paint-order="stroke" transform="translate(709.50 0) scale(1.07 1) translate(-709.50 0)">30.3</text>
<text x="764.90" y="350.80" text-anchor="middle" font-family="'Liberation Sans','Noto Sans CJK JP',sans-serif" font-size="16" fill="#000" stroke="#fff" stroke-width="2.7" stroke-linejoin="round" paint-order="stroke" transform="translate(764.90 0) scale(1.07 1) translate(-764.90 0)">32.7</text>
<text x="35.6" y="374.90" text-anchor="end" font-family="'Liberation Sans','Noto Sans CJK JP',sans-serif" font-size="16" fill="#111" transform="translate(35.6 0) scale(1.06 1) translate(-35.6 0)">7</text>
<text x="40.3" y="374.30" font-family="'Noto Sans CJK JP','Liberation Sans',sans-serif" font-size="13.8" fill="#111">位</text>
<text x="72" y="374.10" font-family="'Noto Sans CJK JP','Liberation Sans',sans-serif" font-size="13.7" fill="#111">繊維・化学・医薬</text>
<text x="262.9" y="374.00" text-anchor="end" font-family="'Liberation Sans','Noto Sans CJK JP',sans-serif" font-size="12.4" font-style="italic" fill="#111">43</text>
<text x="314.1" y="374.90" text-anchor="middle" font-family="'Liberation Sans','Noto Sans CJK JP',sans-serif" font-size="16" fill="#000" stroke="#fff" stroke-width="2.7" stroke-linejoin="round" paint-order="stroke" transform="translate(314.1 0) scale(1.07 1) translate(-314.1 0)">32.5</text>
<text x="377.60" y="374.90" text-anchor="middle" font-family="'Liberation Sans','Noto Sans CJK JP',sans-serif" font-size="16" fill="#000" stroke="#fff" stroke-width="2.7" stroke-linejoin="round" paint-order="stroke" transform="translate(377.60 0) scale(1.07 1) translate(-377.60 0)">37.3</text>
<text x="433.00" y="374.90" text-anchor="middle" font-family="'Liberation Sans','Noto Sans CJK JP',sans-serif" font-size="16" fill="#000" stroke="#fff" stroke-width="2.7" stroke-linejoin="round" paint-order="stroke" transform="translate(433.00 0) scale(1.07 1) translate(-433.00 0)">26.8</text>
<text x="488.20" y="374.90" text-anchor="middle" font-family="'Liberation Sans','Noto Sans CJK JP',sans-serif" font-size="16" fill="#000" stroke="#fff" stroke-width="2.7" stroke-linejoin="round" paint-order="stroke" transform="translate(488.20 0) scale(1.07 1) translate(-488.20 0)">28.4</text>
<text x="543.60" y="374.90" text-anchor="middle" font-family="'Liberation Sans','Noto Sans CJK JP',sans-serif" font-size="16" fill="#000" stroke="#fff" stroke-width="2.7" stroke-linejoin="round" paint-order="stroke" transform="translate(543.60 0) scale(1.07 1) translate(-543.60 0)">22.6</text>
<text x="598.90" y="374.90" text-anchor="middle" font-family="'Liberation Sans','Noto Sans CJK JP',sans-serif" font-size="16" fill="#000" stroke="#fff" stroke-width="2.7" stroke-linejoin="round" paint-order="stroke" transform="translate(598.90 0) scale(1.07 1) translate(-598.90 0)">51.4</text>
<text x="654.00" y="374.90" text-anchor="middle" font-family="'Liberation Sans','Noto Sans CJK JP',sans-serif" font-size="16" fill="#000" stroke="#fff" stroke-width="2.7" stroke-linejoin="round" paint-order="stroke" transform="translate(654.00 0) scale(1.07 1) translate(-654.00 0)">24.9</text>
<text x="709.50" y="374.90" text-anchor="middle" font-family="'Liberation Sans','Noto Sans CJK JP',sans-serif" font-size="16" fill="#000" stroke="#fff" stroke-width="2.7" stroke-linejoin="round" paint-order="stroke" transform="translate(709.50 0) scale(1.07 1) translate(-709.50 0)">30.4</text>
<text x="764.90" y="374.90" text-anchor="middle" font-family="'Liberation Sans','Noto Sans CJK JP',sans-serif" font-size="16" fill="#000" stroke="#fff" stroke-width="2.7" stroke-linejoin="round" paint-order="stroke" transform="translate(764.90 0) scale(1.07 1) translate(-764.90 0)">37.8</text>
<text x="35.6" y="398.80" text-anchor="end" font-family="'Liberation Sans','Noto Sans CJK JP',sans-serif" font-size="16" fill="#111" transform="translate(35.6 0) scale(1.06 1) translate(-35.6 0)">8</text>
<text x="40.3" y="398.20" font-family="'Noto Sans CJK JP','Liberation Sans',sans-serif" font-size="13.8" fill="#111">位</text>
<text x="72" y="398.00" font-family="'Noto Sans CJK JP','Liberation Sans',sans-serif" font-size="13.7" fill="#111">その他</text>
<text x="262.9" y="397.90" text-anchor="end" font-family="'Liberation Sans','Noto Sans CJK JP',sans-serif" font-size="12.4" font-style="italic" fill="#111">28</text>
<text x="314.1" y="398.80" text-anchor="middle" font-family="'Liberation Sans','Noto Sans CJK JP',sans-serif" font-size="16" fill="#000" stroke="#fff" stroke-width="2.7" stroke-linejoin="round" paint-order="stroke" transform="translate(314.1 0) scale(1.07 1) translate(-314.1 0)">30.9</text>
<text x="377.60" y="398.80" text-anchor="middle" font-family="'Liberation Sans','Noto Sans CJK JP',sans-serif" font-size="16" fill="#000" stroke="#fff" stroke-width="2.7" stroke-linejoin="round" paint-order="stroke" transform="translate(377.60 0) scale(1.07 1) translate(-377.60 0)">40.5</text>
<text x="433.00" y="398.80" text-anchor="middle" font-family="'Liberation Sans','Noto Sans CJK JP',sans-serif" font-size="16" fill="#000" stroke="#fff" stroke-width="2.7" stroke-linejoin="round" paint-order="stroke" transform="translate(433.00 0) scale(1.07 1) translate(-433.00 0)">24.5</text>
<text x="488.20" y="398.80" text-anchor="middle" font-family="'Liberation Sans','Noto Sans CJK JP',sans-serif" font-size="16" fill="#000" stroke="#fff" stroke-width="2.7" stroke-linejoin="round" paint-order="stroke" transform="translate(488.20 0) scale(1.07 1) translate(-488.20 0)">25.4</text>
<text x="543.60" y="398.80" text-anchor="middle" font-family="'Liberation Sans','Noto Sans CJK JP',sans-serif" font-size="16" fill="#000" stroke="#fff" stroke-width="2.7" stroke-linejoin="round" paint-order="stroke" transform="translate(543.60 0) scale(1.07 1) translate(-543.60 0)">20.7</text>
<text x="598.90" y="398.80" text-anchor="middle" font-family="'Liberation Sans','Noto Sans CJK JP',sans-serif" font-size="16" fill="#000" stroke="#fff" stroke-width="2.7" stroke-linejoin="round" paint-order="stroke" transform="translate(598.90 0) scale(1.07 1) translate(-598.90 0)">48.7</text>
<text x="654.00" y="398.80" text-anchor="middle" font-family="'Liberation Sans','Noto Sans CJK JP',sans-serif" font-size="16" fill="#000" stroke="#fff" stroke-width="2.7" stroke-linejoin="round" paint-order="stroke" transform="translate(654.00 0) scale(1.07 1) translate(-654.00 0)">26.0</text>
<text x="709.50" y="398.80" text-anchor="middle" font-family="'Liberation Sans','Noto Sans CJK JP',sans-serif" font-size="16" fill="#000" stroke="#fff" stroke-width="2.7" stroke-linejoin="round" paint-order="stroke" transform="translate(709.50 0) scale(1.07 1) translate(-709.50 0)">26.0</text>
<text x="764.90" y="398.80" text-anchor="middle" font-family="'Liberation Sans','Noto Sans CJK JP',sans-serif" font-size="16" fill="#000" stroke="#fff" stroke-width="2.7" stroke-linejoin="round" paint-order="stroke" transform="translate(764.90 0) scale(1.07 1) translate(-764.90 0)">35.2</text>
<text x="35.6" y="422.20" text-anchor="end" font-family="'Liberation Sans','Noto Sans CJK JP',sans-serif" font-size="16" fill="#111" transform="translate(35.6 0) scale(1.06 1) translate(-35.6 0)">9</text>
<text x="40.3" y="421.60" font-family="'Noto Sans CJK JP','Liberation Sans',sans-serif" font-size="13.8" fill="#111">位</text>
<text x="72" y="421.40" font-family="'Noto Sans CJK JP','Liberation Sans',sans-serif" font-size="13.7" fill="#111">その他製品</text>
<text x="262.9" y="421.30" text-anchor="end" font-family="'Liberation Sans','Noto Sans CJK JP',sans-serif" font-size="12.4" font-style="italic" fill="#111">14</text>
<text x="314.1" y="422.20" text-anchor="middle" font-family="'Liberation Sans','Noto Sans CJK JP',sans-serif" font-size="16" fill="#000" stroke="#fff" stroke-width="2.7" stroke-linejoin="round" paint-order="stroke" transform="translate(314.1 0) scale(1.07 1) translate(-314.1 0)">30.2</text>
<text x="377.60" y="422.20" text-anchor="middle" font-family="'Liberation Sans','Noto Sans CJK JP',sans-serif" font-size="16" fill="#000" stroke="#fff" stroke-width="2.7" stroke-linejoin="round" paint-order="stroke" transform="translate(377.60 0) scale(1.07 1) translate(-377.60 0)">34.9</text>
<text x="433.00" y="422.20" text-anchor="middle" font-family="'Liberation Sans','Noto Sans CJK JP',sans-serif" font-size="16" fill="#000" stroke="#fff" stroke-width="2.7" stroke-linejoin="round" paint-order="stroke" transform="translate(433.00 0) scale(1.07 1) translate(-433.00 0)">27.0</text>
<text x="488.20" y="422.20" text-anchor="middle" font-family="'Liberation Sans','Noto Sans CJK JP',sans-serif" font-size="16" fill="#000" stroke="#fff" stroke-width="2.7" stroke-linejoin="round" paint-order="stroke" transform="translate(488.20 0) scale(1.07 1) translate(-488.20 0)">29.1</text>
<text x="543.60" y="422.20" text-anchor="middle" font-family="'Liberation Sans','Noto Sans CJK JP',sans-serif" font-size="16" fill="#000" stroke="#fff" stroke-width="2.7" stroke-linejoin="round" paint-order="stroke" transform="translate(543.60 0) scale(1.07 1) translate(-543.60 0)">25.6</text>
<text x="598.90" y="422.20" text-anchor="middle" font-family="'Liberation Sans','Noto Sans CJK JP',sans-serif" font-size="16" fill="#000" stroke="#fff" stroke-width="2.7" stroke-linejoin="round" paint-order="stroke" transform="translate(598.90 0) scale(1.07 1) translate(-598.90 0)">46.7</text>
<text x="654.00" y="422.20" text-anchor="middle" font-family="'Liberation Sans','Noto Sans CJK JP',sans-serif" font-size="16" fill="#000" stroke="#fff" stroke-width="2.7" stroke-linejoin="round" paint-order="stroke" transform="translate(654.00 0) scale(1.07 1) translate(-654.00 0)">22.2</text>
<text x="709.50" y="422.20" text-anchor="middle" font-family="'Liberation Sans','Noto Sans CJK JP',sans-serif" font-size="16" fill="#000" stroke="#fff" stroke-width="2.7" stroke-linejoin="round" paint-order="stroke" transform="translate(709.50 0) scale(1.07 1) translate(-709.50 0)">26.0</text>
<text x="764.90" y="422.20" text-anchor="middle" font-family="'Liberation Sans','Noto Sans CJK JP',sans-serif" font-size="16" fill="#000" stroke="#fff" stroke-width="2.7" stroke-linejoin="round" paint-order="stroke" transform="translate(764.90 0) scale(1.07 1) translate(-764.90 0)">30.2</text>
<text x="35.6" y="446.50" text-anchor="end" font-family="'Liberation Sans','Noto Sans CJK JP',sans-serif" font-size="16" fill="#111" transform="translate(35.6 0) scale(1.06 1) translate(-35.6 0)">10</text>
<text x="40.3" y="445.90" font-family="'Noto Sans CJK JP','Liberation Sans',sans-serif" font-size="13.8" fill="#111">位</text>
<text x="72" y="445.70" font-family="'Noto Sans CJK JP','Liberation Sans',sans-serif" font-size="13.7" fill="#111">情報・通信</text>
<text x="262.9" y="445.60" text-anchor="end" font-family="'Liberation Sans','Noto Sans CJK JP',sans-serif" font-size="12.4" font-style="italic" fill="#111">47</text>
<text x="314.1" y="446.50" text-anchor="middle" font-family="'Liberation Sans','Noto Sans CJK JP',sans-serif" font-size="16" fill="#000" stroke="#fff" stroke-width="2.7" stroke-linejoin="round" paint-order="stroke" transform="translate(314.1 0) scale(1.07 1) translate(-314.1 0)">29.8</text>
<text x="377.60" y="446.50" text-anchor="middle" font-family="'Liberation Sans','Noto Sans CJK JP',sans-serif" font-size="16" fill="#000" stroke="#fff" stroke-width="2.7" stroke-linejoin="round" paint-order="stroke" transform="translate(377.60 0) scale(1.07 1) translate(-377.60 0)">43.3</text>
<text x="433.00" y="446.50" text-anchor="middle" font-family="'Liberation Sans','Noto Sans CJK JP',sans-serif" font-size="16" fill="#000" stroke="#fff" stroke-width="2.7" stroke-linejoin="round" paint-order="stroke" transform="translate(433.00 0) scale(1.07 1) translate(-433.00 0)">28.7</text>
<text x="488.20" y="446.50" text-anchor="middle" font-family="'Liberation Sans','Noto Sans CJK JP',sans-serif" font-size="16" fill="#000" stroke="#fff" stroke-width="2.7" stroke-linejoin="round" paint-order="stroke" transform="translate(488.20 0) scale(1.07 1) translate(-488.20 0)">29.0</text>
<text x="543.60" y="446.50" text-anchor="middle" font-family="'Liberation Sans','Noto Sans CJK JP',sans-serif" font-size="16" fill="#000" stroke="#fff" stroke-width="2.7" stroke-linejoin="round" paint-order="stroke" transform="translate(543.60 0) scale(1.07 1) translate(-543.60 0)">22.1</text>
<text x="598.90" y="446.50" text-anchor="middle" font-family="'Liberation Sans','Noto Sans CJK JP',sans-serif" font-size="16" fill="#000" stroke="#fff" stroke-width="2.7" stroke-linejoin="round" paint-order="stroke" transform="translate(598.90 0) scale(1.07 1) translate(-598.90 0)">48.4</text>
<text x="654.00" y="446.50" text-anchor="middle" font-family="'Liberation Sans','Noto Sans CJK JP',sans-serif" font-size="16" fill="#000" stroke="#fff" stroke-width="2.7" stroke-linejoin="round" paint-order="stroke" transform="translate(654.00 0) scale(1.07 1) translate(-654.00 0)">18.2</text>
<text x="709.50" y="446.50" text-anchor="middle" font-family="'Liberation Sans','Noto Sans CJK JP',sans-serif" font-size="16" fill="#000" stroke="#fff" stroke-width="2.7" stroke-linejoin="round" paint-order="stroke" transform="translate(709.50 0) scale(1.07 1) translate(-709.50 0)">20.5</text>
<text x="764.90" y="446.50" text-anchor="middle" font-family="'Liberation Sans','Noto Sans CJK JP',sans-serif" font-size="16" fill="#000" stroke="#fff" stroke-width="2.7" stroke-linejoin="round" paint-order="stroke" transform="translate(764.90 0) scale(1.07 1) translate(-764.90 0)">28.6</text>
<text x="35.6" y="470.50" text-anchor="end" font-family="'Liberation Sans','Noto Sans CJK JP',sans-serif" font-size="16" fill="#111" transform="translate(35.6 0) scale(1.06 1) translate(-35.6 0)">11</text>
<text x="40.3" y="469.90" font-family="'Noto Sans CJK JP','Liberation Sans',sans-serif" font-size="13.8" fill="#111">位</text>
<text x="72" y="469.70" font-family="'Noto Sans CJK JP','Liberation Sans',sans-serif" font-size="13.7" fill="#111">鉄鋼・非鉄金属</text>
<text x="262.9" y="469.60" text-anchor="end" font-family="'Liberation Sans','Noto Sans CJK JP',sans-serif" font-size="12.4" font-style="italic" fill="#111">15</text>
<text x="314.1" y="470.50" text-anchor="middle" font-family="'Liberation Sans','Noto Sans CJK JP',sans-serif" font-size="16" fill="#000" stroke="#fff" stroke-width="2.7" stroke-linejoin="round" paint-order="stroke" transform="translate(314.1 0) scale(1.07 1) translate(-314.1 0)">26.6</text>
<text x="377.60" y="470.50" text-anchor="middle" font-family="'Liberation Sans','Noto Sans CJK JP',sans-serif" font-size="16" fill="#000" stroke="#fff" stroke-width="2.7" stroke-linejoin="round" paint-order="stroke" transform="translate(377.60 0) scale(1.07 1) translate(-377.60 0)">21.7</text>
<text x="433.00" y="470.50" text-anchor="middle" font-family="'Liberation Sans','Noto Sans CJK JP',sans-serif" font-size="16" fill="#000" stroke="#fff" stroke-width="2.7" stroke-linejoin="round" paint-order="stroke" transform="translate(433.00 0) scale(1.07 1) translate(-433.00 0)">27.0</text>
<text x="488.20" y="470.50" text-anchor="middle" font-family="'Liberation Sans','Noto Sans CJK JP',sans-serif" font-size="16" fill="#000" stroke="#fff" stroke-width="2.7" stroke-linejoin="round" paint-order="stroke" transform="translate(488.20 0) scale(1.07 1) translate(-488.20 0)">21.9</text>
<text x="543.60" y="470.50" text-anchor="middle" font-family="'Liberation Sans','Noto Sans CJK JP',sans-serif" font-size="16" fill="#000" stroke="#fff" stroke-width="2.7" stroke-linejoin="round" paint-order="stroke" transform="translate(543.60 0) scale(1.07 1) translate(-543.60 0)">13.8</text>
<text x="598.90" y="470.50" text-anchor="middle" font-family="'Liberation Sans','Noto Sans CJK JP',sans-serif" font-size="16" fill="#000" stroke="#fff" stroke-width="2.7" stroke-linejoin="round" paint-order="stroke" transform="translate(598.90 0) scale(1.07 1) translate(-598.90 0)">45.9</text>
<text x="654.00" y="470.50" text-anchor="middle" font-family="'Liberation Sans','Noto Sans CJK JP',sans-serif" font-size="16" fill="#000" stroke="#fff" stroke-width="2.7" stroke-linejoin="round" paint-order="stroke" transform="translate(654.00 0) scale(1.07 1) translate(-654.00 0)">30.0</text>
<text x="709.50" y="470.50" text-anchor="middle" font-family="'Liberation Sans','Noto Sans CJK JP',sans-serif" font-size="16" fill="#000" stroke="#fff" stroke-width="2.7" stroke-linejoin="round" paint-order="stroke" transform="translate(709.50 0) scale(1.07 1) translate(-709.50 0)">23.8</text>
<text x="764.90" y="470.50" text-anchor="middle" font-family="'Liberation Sans','Noto Sans CJK JP',sans-serif" font-size="16" fill="#000" stroke="#fff" stroke-width="2.7" stroke-linejoin="round" paint-order="stroke" transform="translate(764.90 0) scale(1.07 1) translate(-764.90 0)">28.9</text>
<text x="35.6" y="494.00" text-anchor="end" font-family="'Liberation Sans','Noto Sans CJK JP',sans-serif" font-size="16" fill="#111" transform="translate(35.6 0) scale(1.06 1) translate(-35.6 0)">12</text>
<text x="40.3" y="493.40" font-family="'Noto Sans CJK JP','Liberation Sans',sans-serif" font-size="13.8" fill="#111">位</text>
<text x="72" y="493.20" font-family="'Noto Sans CJK JP','Liberation Sans',sans-serif" font-size="13.7" fill="#111">卸売・小売</text>
<text x="262.9" y="493.10" text-anchor="end" font-family="'Liberation Sans','Noto Sans CJK JP',sans-serif" font-size="12.4" font-style="italic" fill="#111">70</text>
<text x="314.1" y="494.00" text-anchor="middle" font-family="'Liberation Sans','Noto Sans CJK JP',sans-serif" font-size="16" fill="#000" stroke="#fff" stroke-width="2.7" stroke-linejoin="round" paint-order="stroke" transform="translate(314.1 0) scale(1.07 1) translate(-314.1 0)">25.8</text>
<text x="377.60" y="494.00" text-anchor="middle" font-family="'Liberation Sans','Noto Sans CJK JP',sans-serif" font-size="16" fill="#000" stroke="#fff" stroke-width="2.7" stroke-linejoin="round" paint-order="stroke" transform="translate(377.60 0) scale(1.07 1) translate(-377.60 0)">35.2</text>
<text x="433.00" y="494.00" text-anchor="middle" font-family="'Liberation Sans','Noto Sans CJK JP',sans-serif" font-size="16" fill="#000" stroke="#fff" stroke-width="2.7" stroke-linejoin="round" paint-order="stroke" transform="translate(433.00 0) scale(1.07 1) translate(-433.00 0)">24.5</text>
<text x="488.20" y="494.00" text-anchor="middle" font-family="'Liberation Sans','Noto Sans CJK JP',sans-serif" font-size="16" fill="#000" stroke="#fff" stroke-width="2.7" stroke-linejoin="round" paint-order="stroke" transform="translate(488.20 0) scale(1.07 1) translate(-488.20 0)">22.3</text>
<text x="543.60" y="494.00" text-anchor="middle" font-family="'Liberation Sans','Noto Sans CJK JP',sans-serif" font-size="16" fill="#000" stroke="#fff" stroke-width="2.7" stroke-linejoin="round" paint-order="stroke" transform="translate(543.60 0) scale(1.07 1) translate(-543.60 0)">18.3</text>
<text x="598.90" y="494.00" text-anchor="middle" font-family="'Liberation Sans','Noto Sans CJK JP',sans-serif" font-size="16" fill="#000" stroke="#fff" stroke-width="2.7" stroke-linejoin="round" paint-order="stroke" transform="translate(598.90 0) scale(1.07 1) translate(-598.90 0)">43.7</text>
<text x="654.00" y="494.00" text-anchor="middle" font-family="'Liberation Sans','Noto Sans CJK JP',sans-serif" font-size="16" fill="#000" stroke="#fff" stroke-width="2.7" stroke-linejoin="round" paint-order="stroke" transform="translate(654.00 0) scale(1.07 1) translate(-654.00 0)">18.5</text>
<text x="709.50" y="494.00" text-anchor="middle" font-family="'Liberation Sans','Noto Sans CJK JP',sans-serif" font-size="16" fill="#000" stroke="#fff" stroke-width="2.7" stroke-linejoin="round" paint-order="stroke" transform="translate(709.50 0) scale(1.07 1) translate(-709.50 0)">20.6</text>
<text x="764.90" y="494.00" text-anchor="middle" font-family="'Liberation Sans','Noto Sans CJK JP',sans-serif" font-size="16" fill="#000" stroke="#fff" stroke-width="2.7" stroke-linejoin="round" paint-order="stroke" transform="translate(764.90 0) scale(1.07 1) translate(-764.90 0)">23.4</text>
<text x="35.6" y="518.30" text-anchor="end" font-family="'Liberation Sans','Noto Sans CJK JP',sans-serif" font-size="16" fill="#111" transform="translate(35.6 0) scale(1.06 1) translate(-35.6 0)">13</text>
<text x="40.3" y="517.70" font-family="'Noto Sans CJK JP','Liberation Sans',sans-serif" font-size="13.8" fill="#111">位</text>
<text x="72" y="517.50" font-family="'Noto Sans CJK JP','Liberation Sans',sans-serif" font-size="13.7" fill="#111">機械</text>
<text x="262.9" y="517.40" text-anchor="end" font-family="'Liberation Sans','Noto Sans CJK JP',sans-serif" font-size="12.4" font-style="italic" fill="#111">31</text>
<text x="314.1" y="518.30" text-anchor="middle" font-family="'Liberation Sans','Noto Sans CJK JP',sans-serif" font-size="16" fill="#000" stroke="#fff" stroke-width="2.7" stroke-linejoin="round" paint-order="stroke" transform="translate(314.1 0) scale(1.07 1) translate(-314.1 0)">24.8</text>
<text x="377.60" y="518.30" text-anchor="middle" font-family="'Liberation Sans','Noto Sans CJK JP',sans-serif" font-size="16" fill="#000" stroke="#fff" stroke-width="2.7" stroke-linejoin="round" paint-order="stroke" transform="translate(377.60 0) scale(1.07 1) translate(-377.60 0)">31.3</text>
<text x="433.00" y="518.30" text-anchor="middle" font-family="'Liberation Sans','Noto Sans CJK JP',sans-serif" font-size="16" fill="#000" stroke="#fff" stroke-width="2.7" stroke-linejoin="round" paint-order="stroke" transform="translate(433.00 0) scale(1.07 1) translate(-433.00 0)">20.9</text>
<text x="488.20" y="518.30" text-anchor="middle" font-family="'Liberation Sans','Noto Sans CJK JP',sans-serif" font-size="16" fill="#000" stroke="#fff" stroke-width="2.7" stroke-linejoin="round" paint-order="stroke" transform="translate(488.20 0) scale(1.07 1) translate(-488.20 0)">22.5</text>
<text x="543.60" y="518.30" text-anchor="middle" font-family="'Liberation Sans','Noto Sans CJK JP',sans-serif" font-size="16" fill="#000" stroke="#fff" stroke-width="2.7" stroke-linejoin="round" paint-order="stroke" transform="translate(543.60 0) scale(1.07 1) translate(-543.60 0)">17.5</text>
<text x="598.90" y="518.30" text-anchor="middle" font-family="'Liberation Sans','Noto Sans CJK JP',sans-serif" font-size="16" fill="#000" stroke="#fff" stroke-width="2.7" stroke-linejoin="round" paint-order="stroke" transform="translate(598.90 0) scale(1.07 1) translate(-598.90 0)">44.3</text>
<text x="654.00" y="518.30" text-anchor="middle" font-family="'Liberation Sans','Noto Sans CJK JP',sans-serif" font-size="16" fill="#000" stroke="#fff" stroke-width="2.7" stroke-linejoin="round" paint-order="stroke" transform="translate(654.00 0) scale(1.07 1) translate(-654.00 0)">15.7</text>
<text x="709.50" y="518.30" text-anchor="middle" font-family="'Liberation Sans','Noto Sans CJK JP',sans-serif" font-size="16" fill="#000" stroke="#fff" stroke-width="2.7" stroke-linejoin="round" paint-order="stroke" transform="translate(709.50 0) scale(1.07 1) translate(-709.50 0)">18.9</text>
<text x="764.90" y="518.30" text-anchor="middle" font-family="'Liberation Sans','Noto Sans CJK JP',sans-serif" font-size="16" fill="#000" stroke="#fff" stroke-width="2.7" stroke-linejoin="round" paint-order="stroke" transform="translate(764.90 0) scale(1.07 1) translate(-764.90 0)">27.5</text>
<text x="35.6" y="541.90" text-anchor="end" font-family="'Liberation Sans','Noto Sans CJK JP',sans-serif" font-size="16" fill="#111" transform="translate(35.6 0) scale(1.06 1) translate(-35.6 0)">14</text>
<text x="40.3" y="541.30" font-family="'Noto Sans CJK JP','Liberation Sans',sans-serif" font-size="13.8" fill="#111">位</text>
<text x="72" y="541.10" font-family="'Noto Sans CJK JP','Liberation Sans',sans-serif" font-size="13.7" fill="#111">サービス業</text>
<text x="262.9" y="541.00" text-anchor="end" font-family="'Liberation Sans','Noto Sans CJK JP',sans-serif" font-size="12.4" font-style="italic" fill="#111">66</text>
<text x="314.1" y="541.90" text-anchor="middle" font-family="'Liberation Sans','Noto Sans CJK JP',sans-serif" font-size="16" fill="#000" stroke="#fff" stroke-width="2.7" stroke-linejoin="round" paint-order="stroke" transform="translate(314.1 0) scale(1.07 1) translate(-314.1 0)">23.2</text>
<text x="377.60" y="541.90" text-anchor="middle" font-family="'Liberation Sans','Noto Sans CJK JP',sans-serif" font-size="16" fill="#000" stroke="#fff" stroke-width="2.7" stroke-linejoin="round" paint-order="stroke" transform="translate(377.60 0) scale(1.07 1) translate(-377.60 0)">29.8</text>
<text x="433.00" y="541.90" text-anchor="middle" font-family="'Liberation Sans','Noto Sans CJK JP',sans-serif" font-size="16" fill="#000" stroke="#fff" stroke-width="2.7" stroke-linejoin="round" paint-order="stroke" transform="translate(433.00 0) scale(1.07 1) translate(-433.00 0)">18.9</text>
<text x="488.20" y="541.90" text-anchor="middle" font-family="'Liberation Sans','Noto Sans CJK JP',sans-serif" font-size="16" fill="#000" stroke="#fff" stroke-width="2.7" stroke-linejoin="round" paint-order="stroke" transform="translate(488.20 0) scale(1.07 1) translate(-488.20 0)">20.2</text>
<text x="543.60" y="541.90" text-anchor="middle" font-family="'Liberation Sans','Noto Sans CJK JP',sans-serif" font-size="16" fill="#000" stroke="#fff" stroke-width="2.7" stroke-linejoin="round" paint-order="stroke" transform="translate(543.60 0) scale(1.07 1) translate(-543.60 0)">15.8</text>
<text x="598.90" y="541.90" text-anchor="middle" font-family="'Liberation Sans','Noto Sans CJK JP',sans-serif" font-size="16" fill="#000" stroke="#fff" stroke-width="2.7" stroke-linejoin="round" paint-order="stroke" transform="translate(598.90 0) scale(1.07 1) translate(-598.90 0)">41.2</text>
<text x="654.00" y="541.90" text-anchor="middle" font-family="'Liberation Sans','Noto Sans CJK JP',sans-serif" font-size="16" fill="#000" stroke="#fff" stroke-width="2.7" stroke-linejoin="round" paint-order="stroke" transform="translate(654.00 0) scale(1.07 1) translate(-654.00 0)">17.8</text>
<text x="709.50" y="541.90" text-anchor="middle" font-family="'Liberation Sans','Noto Sans CJK JP',sans-serif" font-size="16" fill="#000" stroke="#fff" stroke-width="2.7" stroke-linejoin="round" paint-order="stroke" transform="translate(709.50 0) scale(1.07 1) translate(-709.50 0)">17.6</text>
<text x="764.90" y="541.90" text-anchor="middle" font-family="'Liberation Sans','Noto Sans CJK JP',sans-serif" font-size="16" fill="#000" stroke="#fff" stroke-width="2.7" stroke-linejoin="round" paint-order="stroke" transform="translate(764.90 0) scale(1.07 1) translate(-764.90 0)">24.5</text>
<text x="35.6" y="565.90" text-anchor="end" font-family="'Liberation Sans','Noto Sans CJK JP',sans-serif" font-size="16" fill="#111" transform="translate(35.6 0) scale(1.06 1) translate(-35.6 0)">15</text>
<text x="40.3" y="565.30" font-family="'Noto Sans CJK JP','Liberation Sans',sans-serif" font-size="13.8" fill="#111">位</text>
<text x="72" y="565.10" font-family="'Noto Sans CJK JP','Liberation Sans',sans-serif" font-size="13.7" fill="#111">建設</text>
<text x="262.9" y="565.00" text-anchor="end" font-family="'Liberation Sans','Noto Sans CJK JP',sans-serif" font-size="12.4" font-style="italic" fill="#111">22</text>
<text x="314.1" y="565.90" text-anchor="middle" font-family="'Liberation Sans','Noto Sans CJK JP',sans-serif" font-size="16" fill="#000" stroke="#fff" stroke-width="2.7" stroke-linejoin="round" paint-order="stroke" transform="translate(314.1 0) scale(1.07 1) translate(-314.1 0)">22.7</text>
<text x="377.60" y="565.90" text-anchor="middle" font-family="'Liberation Sans','Noto Sans CJK JP',sans-serif" font-size="16" fill="#000" stroke="#fff" stroke-width="2.7" stroke-linejoin="round" paint-order="stroke" transform="translate(377.60 0) scale(1.07 1) translate(-377.60 0)">28.0</text>
<text x="433.00" y="565.90" text-anchor="middle" font-family="'Liberation Sans','Noto Sans CJK JP',sans-serif" font-size="16" fill="#000" stroke="#fff" stroke-width="2.7" stroke-linejoin="round" paint-order="stroke" transform="translate(433.00 0) scale(1.07 1) translate(-433.00 0)">21.8</text>
<text x="488.20" y="565.90" text-anchor="middle" font-family="'Liberation Sans','Noto Sans CJK JP',sans-serif" font-size="16" fill="#000" stroke="#fff" stroke-width="2.7" stroke-linejoin="round" paint-order="stroke" transform="translate(488.20 0) scale(1.07 1) translate(-488.20 0)">15.8</text>
<text x="543.60" y="565.90" text-anchor="middle" font-family="'Liberation Sans','Noto Sans CJK JP',sans-serif" font-size="16" fill="#000" stroke="#fff" stroke-width="2.7" stroke-linejoin="round" paint-order="stroke" transform="translate(543.60 0) scale(1.07 1) translate(-543.60 0)">18.4</text>
<text x="598.90" y="565.90" text-anchor="middle" font-family="'Liberation Sans','Noto Sans CJK JP',sans-serif" font-size="16" fill="#000" stroke="#fff" stroke-width="2.7" stroke-linejoin="round" paint-order="stroke" transform="translate(598.90 0) scale(1.07 1) translate(-598.90 0)">35.2</text>
<text x="654.00" y="565.90" text-anchor="middle" font-family="'Liberation Sans','Noto Sans CJK JP',sans-serif" font-size="16" fill="#000" stroke="#fff" stroke-width="2.7" stroke-linejoin="round" paint-order="stroke" transform="translate(654.00 0) scale(1.07 1) translate(-654.00 0)">17.0</text>
<text x="709.50" y="565.90" text-anchor="middle" font-family="'Liberation Sans','Noto Sans CJK JP',sans-serif" font-size="16" fill="#000" stroke="#fff" stroke-width="2.7" stroke-linejoin="round" paint-order="stroke" transform="translate(709.50 0) scale(1.07 1) translate(-709.50 0)">22.1</text>
<text x="764.90" y="565.90" text-anchor="middle" font-family="'Liberation Sans','Noto Sans CJK JP',sans-serif" font-size="16" fill="#000" stroke="#fff" stroke-width="2.7" stroke-linejoin="round" paint-order="stroke" transform="translate(764.90 0) scale(1.07 1) translate(-764.90 0)">23.2</text>
<text x="35.6" y="589.75" text-anchor="end" font-family="'Liberation Sans','Noto Sans CJK JP',sans-serif" font-size="16" fill="#111" transform="translate(35.6 0) scale(1.06 1) translate(-35.6 0)">16</text>
<text x="40.3" y="589.15" font-family="'Noto Sans CJK JP','Liberation Sans',sans-serif" font-size="13.8" fill="#111">位</text>
<text x="72" y="588.95" font-family="'Noto Sans CJK JP','Liberation Sans',sans-serif" font-size="13.7" fill="#111">不動産</text>
<text x="262.9" y="588.85" text-anchor="end" font-family="'Liberation Sans','Noto Sans CJK JP',sans-serif" font-size="12.4" font-style="italic" fill="#111">10</text>
<text x="314.1" y="589.75" text-anchor="middle" font-family="'Liberation Sans','Noto Sans CJK JP',sans-serif" font-size="16" fill="#000" stroke="#fff" stroke-width="2.7" stroke-linejoin="round" paint-order="stroke" transform="translate(314.1 0) scale(1.07 1) translate(-314.1 0)">20.1</text>
<text x="377.60" y="589.75" text-anchor="middle" font-family="'Liberation Sans','Noto Sans CJK JP',sans-serif" font-size="16" fill="#000" stroke="#fff" stroke-width="2.7" stroke-linejoin="round" paint-order="stroke" transform="translate(377.60 0) scale(1.07 1) translate(-377.60 0)">22.9</text>
<text x="433.00" y="589.75" text-anchor="middle" font-family="'Liberation Sans','Noto Sans CJK JP',sans-serif" font-size="16" fill="#000" stroke="#fff" stroke-width="2.7" stroke-linejoin="round" paint-order="stroke" transform="translate(433.00 0) scale(1.07 1) translate(-433.00 0)">16.5</text>
<text x="488.20" y="589.75" text-anchor="middle" font-family="'Liberation Sans','Noto Sans CJK JP',sans-serif" font-size="16" fill="#000" stroke="#fff" stroke-width="2.7" stroke-linejoin="round" paint-order="stroke" transform="translate(488.20 0) scale(1.07 1) translate(-488.20 0)">17.7</text>
<text x="543.60" y="589.75" text-anchor="middle" font-family="'Liberation Sans','Noto Sans CJK JP',sans-serif" font-size="16" fill="#000" stroke="#fff" stroke-width="2.7" stroke-linejoin="round" paint-order="stroke" transform="translate(543.60 0) scale(1.07 1) translate(-543.60 0)">13.9</text>
<text x="598.90" y="589.75" text-anchor="middle" font-family="'Liberation Sans','Noto Sans CJK JP',sans-serif" font-size="16" fill="#000" stroke="#fff" stroke-width="2.7" stroke-linejoin="round" paint-order="stroke" transform="translate(598.90 0) scale(1.07 1) translate(-598.90 0)">34.0</text>
<text x="654.00" y="589.75" text-anchor="middle" font-family="'Liberation Sans','Noto Sans CJK JP',sans-serif" font-size="16" fill="#000" stroke="#fff" stroke-width="2.7" stroke-linejoin="round" paint-order="stroke" transform="translate(654.00 0) scale(1.07 1) translate(-654.00 0)">18.7</text>
<text x="709.50" y="589.75" text-anchor="middle" font-family="'Liberation Sans','Noto Sans CJK JP',sans-serif" font-size="16" fill="#000" stroke="#fff" stroke-width="2.7" stroke-linejoin="round" paint-order="stroke" transform="translate(709.50 0) scale(1.07 1) translate(-709.50 0)">10.1</text>
<text x="764.90" y="589.75" text-anchor="middle" font-family="'Liberation Sans','Noto Sans CJK JP',sans-serif" font-size="16" fill="#000" stroke="#fff" stroke-width="2.7" stroke-linejoin="round" paint-order="stroke" transform="translate(764.90 0) scale(1.07 1) translate(-764.90 0)">26.7</text>
<rect x="64.4" y="604.2" width="22.3" height="20.5" fill="#ef9695"/>
<text y="618.4" font-family="'Liberation Sans','Noto Sans CJK JP',sans-serif" fill="#222" font-size="11"><tspan x="91.6" font-size="12">:</tspan><tspan x="97.7" letter-spacing="0.4">全体平均</tspan><tspan x="147.6" font-size="11">＋</tspan><tspan x="157.3" font-size="11.6" letter-spacing="1.3">10.0</tspan><tspan x="187.6" letter-spacing="0.15">以上</tspan></text>
<rect x="64.4" y="629.5" width="22.3" height="20.5" fill="#5a9ce1"/>
<text y="643.7" font-family="'Liberation Sans','Noto Sans CJK JP',sans-serif" fill="#222" font-size="11"><tspan x="91.6" font-size="12">:</tspan><tspan x="97.7" letter-spacing="0.4">全体平均</tspan><tspan x="147.0" font-size="11">－</tspan><tspan x="157.3" font-size="11.6" letter-spacing="1.3">10.0</tspan><tspan x="188.3" letter-spacing="0.15">未満</tspan></text>
<rect x="235.4" y="604.2" width="22.3" height="20.5" fill="#f9c69e"/>
<text y="618.4" font-family="'Liberation Sans','Noto Sans CJK JP',sans-serif" fill="#222" font-size="11"><tspan x="263.9" font-size="12">:</tspan><tspan x="270.7" letter-spacing="0.4">全体平均</tspan><tspan x="320.8" font-size="11">＋</tspan><tspan x="330.3" font-size="11.6" letter-spacing="1.3">5.0</tspan><tspan x="352.0" font-size="11">～</tspan><tspan x="364.6" font-size="11.6" letter-spacing="1.3">10.0</tspan></text>
<rect x="235.4" y="629.5" width="22.3" height="20.5" fill="#bdd8f5"/>
<text y="643.7" font-family="'Liberation Sans','Noto Sans CJK JP',sans-serif" fill="#222" font-size="11"><tspan x="263.9" font-size="12">:</tspan><tspan x="270.7" letter-spacing="0.4">全体平均</tspan><tspan x="319.9" font-size="11">－</tspan><tspan x="330.3" font-size="11.6" letter-spacing="1.3">5.0</tspan><tspan x="352.0" font-size="11">～</tspan><tspan x="363.8" font-size="11">－</tspan><tspan x="376.6" font-size="11.6" letter-spacing="1.3">10.0</tspan></text>
<text x="673.7" y="615" font-family="'Noto Sans CJK JP','Liberation Sans',sans-serif" font-size="12" fill="#222" letter-spacing="0.6">（単位：平均スコア）</text>
</svg>
</body></html>
